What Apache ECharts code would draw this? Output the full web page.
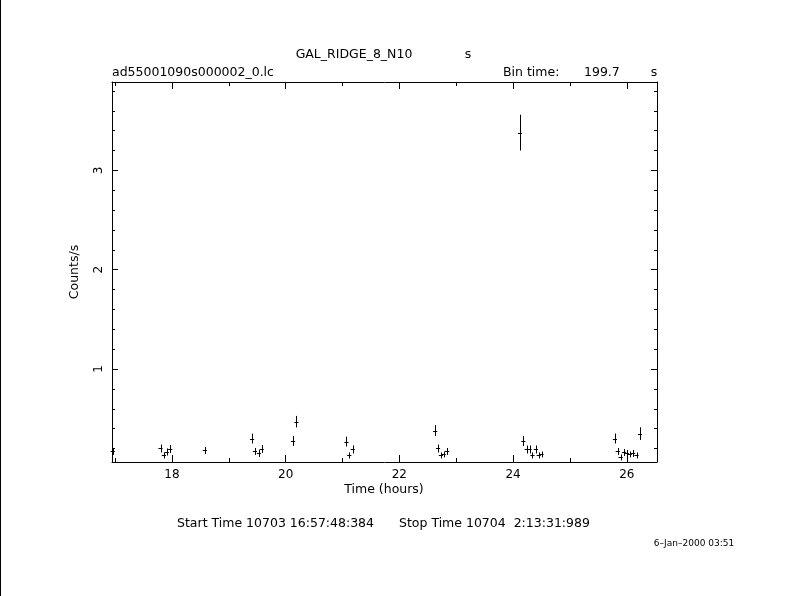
<!DOCTYPE html>
<html>
<head>
<meta charset="utf-8">
<script src="https://cdn.jsdelivr.net/npm/echarts@6/dist/echarts.min.js"></script>
<style>
html,body{margin:0;padding:0;background:#fff;}
#chart{width:789px;height:596px;}
</style>
</head>
<body>
<div id="chart"></div>
<script>
// Time (hours) of each bin
var times = [16.96, 17.80, 17.86, 17.91, 17.97, 18.58, 19.41, 19.46, 19.53, 19.58,
             20.13, 20.19, 21.07, 21.12, 21.18, 22.63, 22.68, 22.73, 22.78, 22.84,
             24.12, 24.18, 24.24, 24.29, 24.34, 24.40, 24.45, 24.50,
             25.79, 25.84, 25.89, 25.95, 26.00, 26.05, 26.11, 26.17, 26.23];
// Count rate (counts/s)
var rates = [0.17, 0.20, 0.13, 0.165, 0.195, 0.18, 0.30, 0.17, 0.15, 0.195,
             0.275, 0.47, 0.27, 0.13, 0.19, 0.38, 0.20, 0.13, 0.14, 0.17,
             3.38, 0.275, 0.19, 0.19, 0.13, 0.19, 0.13, 0.14,
             0.30, 0.17, 0.11, 0.16, 0.15, 0.14, 0.15, 0.13, 0.35];
// 1-sigma errors (counts/s)
var rateErrors = [0.035, 0.04, 0.03, 0.035, 0.04, 0.035, 0.05, 0.035, 0.035, 0.04,
                  0.05, 0.058, 0.05, 0.03, 0.04, 0.055, 0.04, 0.03, 0.03, 0.035,
                  0.18, 0.05, 0.04, 0.04, 0.03, 0.04, 0.03, 0.03,
                  0.05, 0.035, 0.03, 0.035, 0.035, 0.03, 0.035, 0.03, 0.064];
var binTimeSec = 199.7;
var xMajorTicks = [18, 20, 22, 24, 26];
var xMinorTicks = [17, 19, 21, 23, 25];
var yMajorTicks = [1, 2, 3];
var yMinorTicks = [0.2, 0.4, 0.6, 0.8, 1.2, 1.4, 1.6, 1.8, 2.2, 2.4, 2.6, 2.8, 3.2, 3.4, 3.6, 3.8];
var xRange = [16.947, 26.53];
var yRange = [0.064, 3.89];

var FONT = '"DejaVu Sans", Verdana, sans-serif';
var TXT = '12.5px ' + FONT;
var halfBin = binTimeSec / 3600 / 2;

var points = times.map(function (t, i) { return [t, rates[i], rateErrors[i]]; });

var chart = echarts.init(document.getElementById('chart'), null, {renderer: 'canvas'});

function xAxisDef(pos, ticks, len, showLine, showLabels) {
  return {
    type: 'value', position: pos, min: xRange[0], max: xRange[1],
    splitLine: {show: false},
    axisLine: {show: showLine, onZero: false, lineStyle: {color: '#000', width: 1}},
    axisTick: {show: true, inside: true, length: len, customValues: ticks, lineStyle: {color: '#000', width: 1}},
    axisLabel: {show: showLabels, customValues: ticks, color: '#000', fontFamily: FONT, fontSize: 12, margin: 7}
  };
}
function yAxisDef(pos, ticks, len, showLine, showLabels) {
  return {
    type: 'value', position: pos, min: yRange[0], max: yRange[1],
    splitLine: {show: false},
    axisLine: {show: showLine, onZero: false, lineStyle: {color: '#000', width: 1}},
    axisTick: {show: true, inside: true, length: len, customValues: ticks, lineStyle: {color: '#000', width: 1}},
    axisLabel: {show: showLabels, customValues: ticks, rotate: 90, color: '#000', fontFamily: FONT, fontSize: 12, margin: 7}
  };
}

var option = {
  backgroundColor: '#fff',
  animation: false,
  grid: {left: 112, top: 82, right: 132, bottom: 134, containLabel: false},
  xAxis: [
    xAxisDef('bottom', xMajorTicks, 7, true, true),
    xAxisDef('bottom', xMinorTicks, 4, false, false),
    xAxisDef('top', xMajorTicks, 7, true, false),
    xAxisDef('top', xMinorTicks, 4, false, false)
  ],
  yAxis: [
    yAxisDef('left', yMajorTicks, 6, true, true),
    yAxisDef('left', yMinorTicks, 3, false, false),
    yAxisDef('right', yMajorTicks, 6, true, false),
    yAxisDef('right', yMinorTicks, 3, false, false)
  ],
  series: [{
    type: 'custom',
    xAxisIndex: 0, yAxisIndex: 0,
    data: points,
    renderItem: function (params, api) {
      var x = api.value(0), y = api.value(1), e = api.value(2);
      var top = api.coord([x, y + e]);
      var bot = api.coord([x, y - e]);
      var l = api.coord([x - halfBin, y]);
      var r = api.coord([x + halfBin, y]);
      var style = {stroke: '#000', lineWidth: 1};
      return {
        type: 'group',
        children: [
          {type: 'line', shape: {x1: Math.round(top[0]) + 0.5, y1: top[1], x2: Math.round(bot[0]) + 0.5, y2: bot[1]}, style: style},
          {type: 'line', shape: {x1: l[0] - 0.5, y1: Math.round(l[1]) + 0.5, x2: r[0] + 0.5, y2: Math.round(r[1]) + 0.5}, style: style}
        ]
      };
    }
  }],
  graphic: [
    {type: 'rect', left: 0, top: 0, shape: {width: 1, height: 596}, style: {fill: '#000'}},
    {type: 'text', x: 354, y: 55, style: {text: 'GAL_RIDGE_8_N10', font: TXT, fill: '#000', textAlign: 'center', textVerticalAlign: 'middle'}},
    {type: 'text', x: 468, y: 55, style: {text: 's', font: TXT, fill: '#000', textAlign: 'center', textVerticalAlign: 'middle'}},
    {type: 'text', x: 112, y: 73, style: {text: 'ad55001090s000002_0.lc', font: TXT, fill: '#000', textAlign: 'left', textVerticalAlign: 'middle'}},
    {type: 'text', x: 503, y: 73, style: {text: 'Bin time:', font: TXT, fill: '#000', textAlign: 'left', textVerticalAlign: 'middle'}},
    {type: 'text', x: 584, y: 73, style: {text: '199.7', font: TXT, fill: '#000', textAlign: 'left', textVerticalAlign: 'middle'}},
    {type: 'text', x: 654, y: 73, style: {text: 's', font: TXT, fill: '#000', textAlign: 'center', textVerticalAlign: 'middle'}},
    {type: 'text', x: 75, y: 272, rotation: Math.PI / 2, style: {text: 'Counts/s', font: TXT, fill: '#000', textAlign: 'center', textVerticalAlign: 'middle'}},
    {type: 'text', x: 384, y: 490, style: {text: 'Time (hours)', font: TXT, fill: '#000', textAlign: 'center', textVerticalAlign: 'middle'}},
    {type: 'text', x: 177, y: 524, style: {text: 'Start Time 10703 16:57:48:384', font: TXT, fill: '#000', textAlign: 'left', textVerticalAlign: 'middle'}},
    {type: 'text', x: 399, y: 524, style: {text: 'Stop Time 10704  2:13:31:989', font: TXT, fill: '#000', textAlign: 'left', textVerticalAlign: 'middle'}},
    {type: 'text', x: 694, y: 544, style: {text: '6\u2013Jan\u20132000 03:51', font: '9px ' + FONT, fill: '#000', textAlign: 'center', textVerticalAlign: 'middle'}}
  ]
};
chart.setOption(option);
</script>
</body>
</html>
